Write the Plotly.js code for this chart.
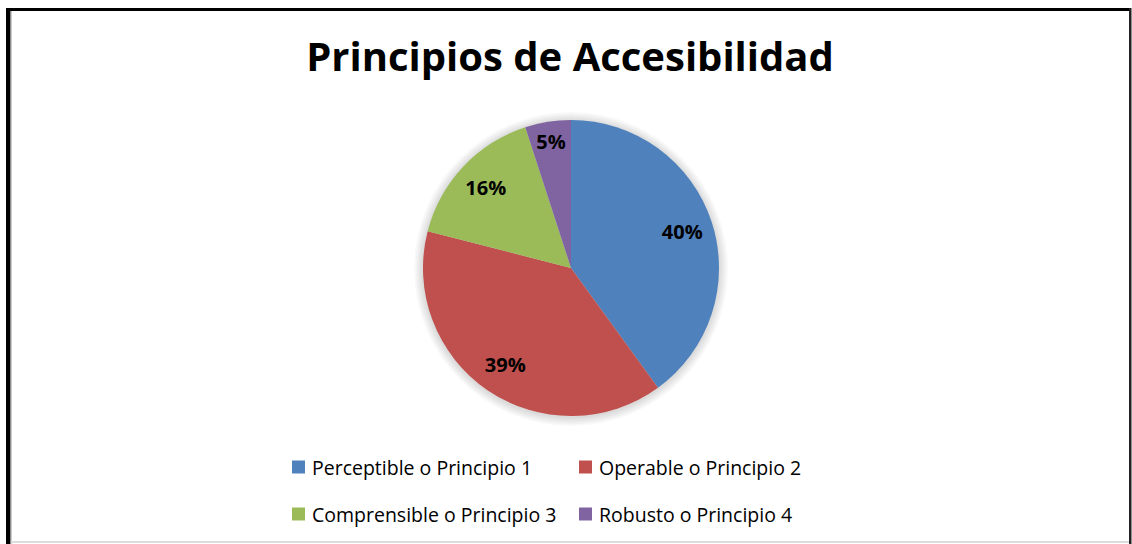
<!DOCTYPE html>
<html>
<head>
<meta charset="utf-8">
<script src="https://cdn.plot.ly/plotly-3.0.1.min.js"></script>
<style>html,body{margin:0;padding:0;background:#fff;}#chart{width:1132px;height:544px;}</style>
</head>
<body>
<div id="chart"></div>
<script>
// ---- data ----
const titleText = "Principios de Accesibilidad";
const categories = ["Perceptible o Principio 1", "Operable o Principio 2", "Comprensible o Principio 3", "Robusto o Principio 4"];
const values = [40, 39, 16, 5];
const colors = ["#4F81BD", "#C0504D", "#9BBB59", "#8064A2"];

// ---- layout constants ----
const W = 1132, H = 544;
const cx = 571, cy = 268, R = 148;
const px = x => x / W;
const py = y => 1 - y / H;

const shapes = [];
const annotations = [];

// soft shadow behind pie
for (let i = 1; i <= 6; i++) {
  const r = R + i * 1.5;
  shapes.push({type: "circle", xref: "paper", yref: "paper", layer: "below",
    x0: px(cx - r), x1: px(cx + r), y0: py(cy + r + 1), y1: py(cy - r + 1),
    line: {width: 0}, fillcolor: "rgba(0,0,0,0.022)"});
}

// border
shapes.push({type: "rect", xref: "paper", yref: "paper", x0: px(6), x1: px(1131), y0: py(11), y1: py(8), line: {width: 0}, fillcolor: "#000"});
shapes.push({type: "rect", xref: "paper", yref: "paper", x0: px(6), x1: px(10.5), y0: 0, y1: py(8), line: {width: 0}, fillcolor: "#000"});
shapes.push({type: "rect", xref: "paper", yref: "paper", x0: px(10.5), x1: px(11.5), y0: 0, y1: py(11), line: {width: 0}, fillcolor: "#9a9a9a"});
shapes.push({type: "rect", xref: "paper", yref: "paper", x0: px(1129), x1: px(1131.5), y0: 0, y1: py(8), line: {width: 0}, fillcolor: "#222"});
shapes.push({type: "rect", xref: "paper", yref: "paper", x0: px(11), x1: px(1129), y0: py(543), y1: py(541), line: {width: 0}, fillcolor: "#dcdcdc"});

// legend (2 columns x 2 rows)
const legCols = [292, 579];
const legRows = [467, 514];
categories.forEach((c, i) => {
  const lx = legCols[i % 2], ly = legRows[Math.floor(i / 2)];
  shapes.push({type: "rect", xref: "paper", yref: "paper",
    x0: px(lx), x1: px(lx + 13), y0: py(ly + 6.5), y1: py(ly - 6.5),
    line: {width: 0}, fillcolor: colors[i]});
  annotations.push({xref: "paper", yref: "paper", x: px(lx + 18), y: py(ly), xanchor: "left", yanchor: "middle",
    text: c, showarrow: false, font: {family: "Open Sans, sans-serif", size: 19.5, color: "#000"}});
});

const domain = {x: [px(cx - R), px(cx + R)], y: [py(cy + R), py(cy - R)]};

const data = [{
  type: "pie",
  labels: categories,
  values: values,
  marker: {colors: colors, line: {width: 0}},
  sort: false,
  direction: "clockwise",
  rotation: 0,
  textinfo: "none",
  domain: domain,
  showlegend: false,
  hoverinfo: "label+percent"
}, {
  // transparent ring used only to place the percentage labels further out
  type: "pie",
  labels: categories,
  values: values,
  hole: 0.58,
  marker: {colors: ["rgba(0,0,0,0)", "rgba(0,0,0,0)", "rgba(0,0,0,0)", "rgba(0,0,0,0)"], line: {width: 0}},
  sort: false,
  direction: "clockwise",
  rotation: 0,
  textinfo: "percent",
  texttemplate: "%{percent:.0%}",
  textposition: "inside",
  insidetextorientation: "horizontal",
  textfont: {family: "Open Sans, sans-serif", size: 20, color: "#000", weight: "bold"},
  domain: domain,
  showlegend: false,
  hoverinfo: "skip"
}];

const layout = {
  width: W, height: H,
  margin: {l: 0, r: 0, t: 0, b: 0},
  paper_bgcolor: "#fff",
  title: {text: "<b>" + titleText + "</b>", x: px(570), xanchor: "center", y: py(57), yanchor: "middle",
    font: {family: "Open Sans, sans-serif", size: 40, color: "#000"}},
  shapes: shapes,
  annotations: annotations,
  showlegend: false
};

Plotly.newPlot("chart", data, layout, {displayModeBar: false, staticPlot: true});
</script>
</body>
</html>
